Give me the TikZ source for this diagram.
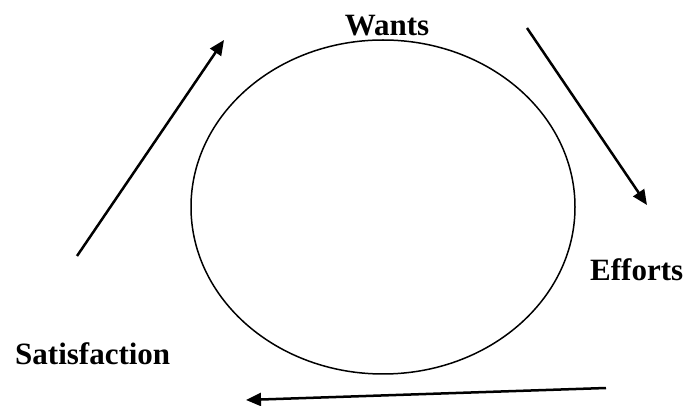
\documentclass[tikz,border=0pt]{standalone}
\usepackage{fontspec}
\setmainfont{Liberation Serif}
\usetikzlibrary{arrows.meta,shapes.geometric}
\begin{document}
\begin{tikzpicture}[x=1pt,y=-1pt,
  lbl/.style={inner sep=0pt, anchor=base west, font=\fontsize{31}{31}\selectfont\bfseries},
  cyc/.style={draw, ellipse, line width=1.5pt, minimum width=384pt, minimum height=334pt, inner sep=0pt},
  flow/.style={line width=2.5pt, -{Triangle[length=15pt,width=13pt]}}]
\useasboundingbox (0,0) rectangle (689,406);
\node[cyc] (circ) at (383,207) {};
\node[lbl, anchor=base] (wants) at (387,36) {Wants};
\node[lbl] (efforts) at (590,281) {Efforts};
\node[lbl] (satis) at (15,365) {Satisfaction};
\coordinate (a1s) at (77,256);
\coordinate (a1e) at (224,40);
\coordinate (a2s) at (527,28);
\coordinate (a2e) at (647,205);
\coordinate (a3s) at (606,388);
\coordinate (a3e) at (246,400);
\draw[flow] (a1s) -- (a1e);
\draw[flow] (a2s) -- (a2e);
\draw[flow] (a3s) -- (a3e);
\end{tikzpicture}
\end{document}
